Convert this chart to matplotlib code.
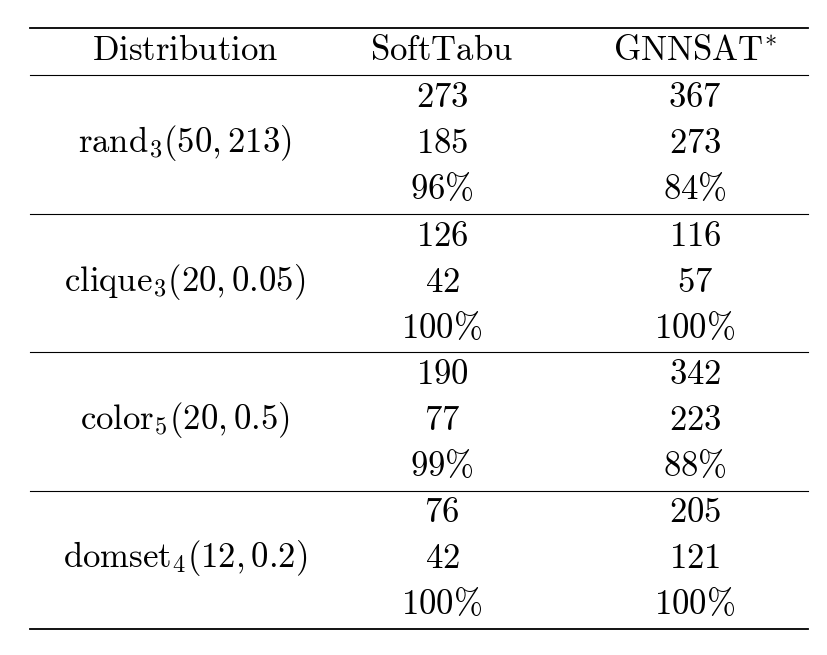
import matplotlib.pyplot as plt

plt.rcParams["mathtext.fontset"] = "cm"

headers = [r"\mathrm{Distribution}", r"\mathrm{SoftTabu}", r"\mathrm{GNNSAT}^{*}"]
distributions = [r"\mathrm{rand}_3(50,213)", r"\mathrm{clique}_3(20,0.05)",
                 r"\mathrm{color}_5(20,0.5)", r"\mathrm{domset}_4(12,0.2)"]
softtabu = [["273", "185", "96\\%"], ["126", "42", "100\\%"],
            ["190", "77", "99\\%"], ["76", "42", "100\\%"]]
gnnsat = [["367", "273", "84\\%"], ["116", "57", "100\\%"],
          ["342", "223", "88\\%"], ["205", "121", "100\\%"]]

fig = plt.figure(figsize=(8.28, 6.55), dpi=100)
ax = fig.add_axes([0, 0, 1, 1])
ax.set_xlim(0, 828)
ax.set_ylim(655, 0)
ax.axis("off")

col_x = [185, 442, 695]
fs = 25

for x, h in zip(col_x, headers):
    ax.text(x, 50, "$" + h + "$", ha="center", va="center", fontsize=fs)

ax.plot([30, 808], [28, 28], color="black", lw=1.3)
ax.plot([30, 808], [75, 75], color="black", lw=0.8)

group_top = 75
row_h = 46
for g, dist in enumerate(distributions):
    y0 = group_top + 22
    ax.text(col_x[0], y0 + row_h, "$" + dist + "$", ha="center", va="center", fontsize=fs)
    for r in range(3):
        y = y0 + r * row_h
        ax.text(col_x[1], y, r"$\mathrm{" + softtabu[g][r] + "}$", ha="center", va="center", fontsize=fs)
        ax.text(col_x[2], y, r"$\mathrm{" + gnnsat[g][r] + "}$", ha="center", va="center", fontsize=fs)
    group_top = group_top + 138.5
    last = g == len(distributions) - 1
    ax.plot([30, 808], [group_top, group_top], color="black", lw=1.3 if last else 0.8)

fig.savefig("out.png", dpi=100)
